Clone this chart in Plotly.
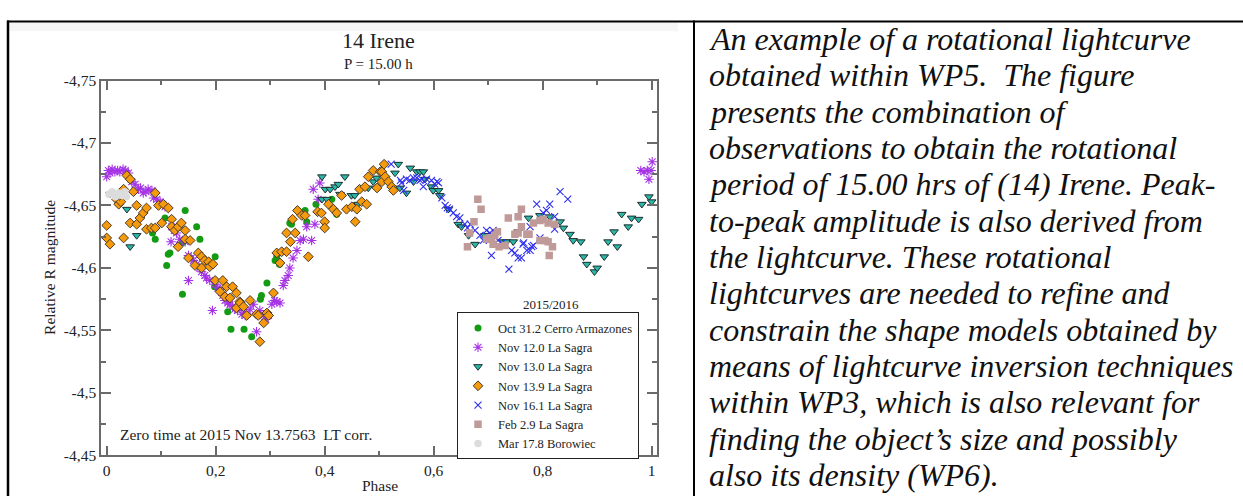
import plotly.graph_objects as go

W, H = 1243, 504

# ---------------- data (phase, relative R magnitude) ----------------
oct31_phase = [0.084, 0.089, 0.107, 0.110, 0.113, 0.116, 0.139, 0.138, 0.144, 0.165, 0.171, 0.198, 0.199,
               0.222, 0.228, 0.252, 0.266, 0.282, 0.284, 0.294, 0.309, 0.312, 0.317, 0.336, 0.339, 0.364,
               0.367, 0.384, 0.413, 0.422]
oct31_mag = [-4.628, -4.623, -4.640, -4.602, -4.611, -4.612, -4.579, -4.620, -4.646, -4.633, -4.623, -4.585, -4.609,
             -4.565, -4.551, -4.551, -4.545, -4.575, -4.578, -4.588, -4.606, -4.609, -4.603, -4.636, -4.635, -4.646,
             -4.637, -4.651, -4.655, -4.643]

nov12_phase = [0.000, 0.003, 0.006, 0.010, 0.015, 0.020, 0.024, 0.030, 0.034, 0.040, 0.012, 0.046, 0.052, 0.058,
               0.062, 0.067, 0.072, 0.076, 0.083, 0.086, 0.092, 0.098, 0.103, 0.107, 0.118, 0.119, 0.124, 0.128,
               0.134, 0.144, 0.150, 0.150, 0.155, 0.159, 0.165, 0.170, 0.174, 0.180, 0.183, 0.189, 0.194, 0.199,
               0.204, 0.208, 0.213, 0.217, 0.222, 0.226, 0.231, 0.235, 0.240, 0.248, 0.251, 0.254, 0.257, 0.263,
               0.269, 0.275, 0.281, 0.287, 0.292, 0.297, 0.303, 0.308, 0.312, 0.318, 0.324, 0.327, 0.333, 0.336,
               0.342, 0.349, 0.355, 0.361, 0.367, 0.376, 0.379, 0.382, 0.388, 0.391,
               0.980, 0.986, 0.992, 0.995, 0.999, 1.001]
nov12_mag = [-4.673, -4.678, -4.676, -4.679, -4.677, -4.678, -4.677, -4.679, -4.678, -4.676, -4.659, -4.669, -4.667,
             -4.663, -4.664, -4.660, -4.661, -4.663, -4.662, -4.656, -4.655, -4.653, -4.651, -4.649, -4.621, -4.633,
             -4.630, -4.628, -4.623, -4.621, -4.610, -4.590, -4.608, -4.606, -4.603, -4.600, -4.597, -4.594, -4.592,
             -4.590, -4.566, -4.587, -4.584, -4.583, -4.578, -4.574, -4.572, -4.571, -4.569, -4.567, -4.566, -4.563,
             -4.567, -4.562, -4.563, -4.567, -4.571, -4.549, -4.566, -4.562, -4.559, -4.562, -4.571, -4.574, -4.573,
             -4.572, -4.586, -4.590, -4.594, -4.600, -4.608, -4.614, -4.622, -4.623, -4.633, -4.622, -4.663, -4.635,
             -4.655, -4.668,
             -4.678, -4.677, -4.678, -4.671, -4.678, -4.685]

nov13_phase = [0.006, 0.024, 0.037, 0.043, 0.055, 0.395, 0.401, 0.410, 0.419, 0.425, 0.437, 0.428, 0.395, 0.404,
               0.449, 0.455, 0.461, 0.480, 0.489, 0.495, 0.504, 0.529, 0.535, 0.538, 0.550, 0.557, 0.563, 0.569,
               0.575, 0.581, 0.584, 0.596, 0.599, 0.609, 0.611, 0.627, 0.645, 0.651, 0.664, 0.676, 0.694, 0.728,
               0.734, 0.746, 0.755, 0.774, 0.795, 0.813, 0.832, 0.838, 0.850, 0.856, 0.870, 0.875, 0.881, 0.895,
               0.900, 0.913, 0.920, 0.931, 0.937, 0.945, 0.957, 0.963, 0.976, 0.982, 0.995, 1.000]
nov13_mag = [-4.659, -4.659, -4.647, -4.617, -4.626, -4.673, -4.663, -4.663, -4.665, -4.667, -4.673, -4.659, -4.655,
             -4.655, -4.658, -4.658, -4.651, -4.664, -4.669, -4.672, -4.676, -4.676, -4.683, -4.664, -4.660, -4.680,
             -4.669, -4.677, -4.677, -4.677, -4.671, -4.665, -4.662, -4.662, -4.658, -4.647, -4.635, -4.633, -4.626,
             -4.619, -4.626, -4.621, -4.621, -4.621, -4.629, -4.640, -4.642, -4.641, -4.637, -4.632, -4.627, -4.622,
             -4.621, -4.609, -4.603, -4.597, -4.600, -4.609, -4.621, -4.629, -4.617, -4.643, -4.633, -4.640, -4.639,
             -4.651, -4.657, -4.653]

nov139_phase = [0.000, 0.000, 0.006, 0.018, 0.022, 0.026, 0.024, 0.031, 0.031, 0.037, 0.043, 0.043, 0.049, 0.055,
                0.055, 0.061, 0.067, 0.073, 0.073, 0.082, 0.089, 0.089, 0.095, 0.101, 0.104, 0.113, 0.119, 0.119,
                0.125, 0.131, 0.131, 0.137, 0.144, 0.144, 0.150, 0.153, 0.162, 0.168, 0.174, 0.174, 0.180, 0.187,
                0.189, 0.195, 0.199, 0.208, 0.213, 0.217, 0.220, 0.226, 0.231, 0.238, 0.238, 0.244, 0.245, 0.251,
                0.257, 0.263, 0.275, 0.278, 0.281, 0.288, 0.294, 0.297, 0.306, 0.312, 0.318, 0.321, 0.330, 0.330,
                0.337, 0.341, 0.346, 0.350, 0.358, 0.364, 0.370, 0.387, 0.394, 0.400, 0.400, 0.407, 0.416, 0.422,
                0.431, 0.440, 0.450, 0.456, 0.459, 0.464, 0.468, 0.474, 0.477, 0.480, 0.489, 0.496, 0.502, 0.505,
                0.505, 0.509, 0.511, 0.517, 0.523, 0.526]
nov139_mag = [-4.634, -4.624, -4.619, -4.655, -4.651, -4.653, -4.658, -4.624, -4.663, -4.674, -4.671, -4.636, -4.661,
              -4.650, -4.635, -4.640, -4.644, -4.648, -4.631, -4.632, -4.632, -4.660, -4.650, -4.636, -4.651, -4.648,
              -4.639, -4.633, -4.630, -4.633, -4.617, -4.636, -4.630, -4.623, -4.608, -4.622, -4.602, -4.612, -4.609,
              -4.600, -4.606, -4.605, -4.601, -4.603, -4.590, -4.581, -4.590, -4.577, -4.585, -4.576, -4.585, -4.580,
              -4.568, -4.573, -4.572, -4.569, -4.562, -4.574, -4.563, -4.562, -4.541, -4.556, -4.564, -4.562, -4.580,
              -4.612, -4.604, -4.613, -4.613, -4.628, -4.621, -4.639, -4.628, -4.646, -4.642, -4.642, -4.609, -4.645,
              -4.644, -4.637, -4.632, -4.651, -4.647, -4.644, -4.658, -4.647, -4.649, -4.637, -4.647, -4.663, -4.653,
              -4.665, -4.651, -4.673, -4.678, -4.664, -4.677, -4.677, -4.669, -4.683, -4.673, -4.669, -4.665, -4.662]

nov16_phase = [0.522, 0.539, 0.541, 0.545, 0.550, 0.556, 0.563, 0.569, 0.575, 0.578, 0.581, 0.587, 0.596, 0.602,
               0.606, 0.609, 0.615, 0.621, 0.625, 0.629, 0.636, 0.642, 0.648, 0.657, 0.667, 0.662, 0.676, 0.685,
               0.691, 0.697, 0.703, 0.709, 0.706, 0.718, 0.725, 0.738, 0.743, 0.749, 0.755, 0.761, 0.764, 0.765,
               0.771, 0.777, 0.777, 0.780, 0.783, 0.789, 0.795, 0.801, 0.807, 0.813, 0.822, 0.822, 0.832, 0.846]
nov16_mag = [-4.683, -4.670, -4.668, -4.662, -4.671, -4.670, -4.672, -4.672, -4.670, -4.671, -4.665, -4.671, -4.670,
             -4.667, -4.669, -4.668, -4.656, -4.650, -4.648, -4.647, -4.644, -4.641, -4.640, -4.635, -4.635, -4.632,
             -4.630, -4.626, -4.622, -4.630, -4.628, -4.630, -4.610, -4.622, -4.620, -4.599, -4.614, -4.612, -4.608,
             -4.608, -4.619, -4.620, -4.614, -4.614, -4.633, -4.617, -4.618, -4.651, -4.624, -4.644, -4.646, -4.651,
             -4.641, -4.631, -4.661, -4.655]

feb2_phase = [0.662, 0.666, 0.674, 0.681, 0.687, 0.697, 0.703, 0.706, 0.709, 0.712, 0.717, 0.720, 0.731, 0.737,
              0.749, 0.755, 0.755, 0.761, 0.761, 0.771, 0.775, 0.783, 0.795, 0.801, 0.810, 0.822, 0.795, 0.804,
              0.810, 0.818, 0.812]
feb2_mag = [-4.617, -4.628, -4.637, -4.655, -4.647, -4.623, -4.624, -4.624, -4.619, -4.626, -4.629, -4.617, -4.618,
            -4.640, -4.627, -4.641, -4.628, -4.647, -4.633, -4.627, -4.627, -4.636, -4.638, -4.639, -4.636, -4.635,
            -4.622, -4.622, -4.621, -4.617, -4.610]

mar17_phase = [0.004, 0.010, 0.016, 0.022, 0.028, 0.033, 0.036]
mar17_mag = [-4.659, -4.661, -4.657, -4.660, -4.658, -4.661, -4.657]

x_tickvals = [0, 0.2, 0.4, 0.6, 0.8, 1.0]
x_ticktext = ["0", "0,2", "0,4", "0,6", "0,8", "1"]
x_minorvals = [0.1, 0.3, 0.5, 0.7, 0.9]
y_tickvals = [-4.75, -4.70, -4.65, -4.60, -4.55, -4.50, -4.45]
y_ticktext = ["-4,75", "-4,7", "-4,65", "-4,6", "-4,55", "-4,5", "-4,45"]
y_minorvals = [-4.725, -4.675, -4.625, -4.575, -4.525, -4.475]

caption_lines = [
    "An example of a rotational lightcurve",
    "obtained within WP5.\u00a0 The figure",
    "presents the combination of",
    "observations to obtain the rotational",
    "period of 15.00 hrs of (14) Irene. Peak-",
    "to-peak amplitude is also derived from",
    "the lightcurve. These rotational",
    "lightcurves are needed to refine and",
    "constrain the shape models obtained by",
    "means of lightcurve inversion techniques",
    "within WP3, which is also relevant for",
    "finding the object\u2019s size and possibly",
    "also its density (WP6).",
]

# ---------------- figure ----------------
SERIF = "Liberation Serif, Times New Roman, serif"
AX = "#6a6a6a"
TXT = "#222222"


def px(x):
    return x / W


def py(y):
    return 1 - y / H


fig = go.Figure()

fig.add_trace(go.Scatter(x=oct31_phase, y=oct31_mag, mode="markers", name="Oct 31.2 Cerro Armazones",
                         marker=dict(symbol="circle", size=7, color="#139c13", line=dict(width=0))))
fig.add_trace(go.Scatter(x=nov12_phase, y=nov12_mag, mode="markers", name="Nov 12.0 La Sagra",
                         marker=dict(symbol="asterisk-open", size=8, color="#a533e6",
                                     line=dict(width=1.1, color="#a533e6"))))
fig.add_trace(go.Scatter(x=nov13_phase, y=nov13_mag, mode="markers", name="Nov 13.0 La Sagra",
                         marker=dict(symbol="triangle-down", size=7.5, color="#2bb8a8",
                                     line=dict(width=1, color="#1e2e2e"))))
fig.add_trace(go.Scatter(x=nov139_phase, y=nov139_mag, mode="markers", name="Nov 13.9 La Sagra",
                         marker=dict(symbol="diamond", size=7.5, color="#f59a0c",
                                     line=dict(width=1, color="#4a3a2a"))))
fig.add_trace(go.Scatter(x=nov16_phase, y=nov16_mag, mode="markers", name="Nov 16.1 La Sagra",
                         marker=dict(symbol="x-thin-open", size=7, color="#2f2ff0",
                                     line=dict(width=1.1, color="#2f2ff0"))))
fig.add_trace(go.Scatter(x=feb2_phase, y=feb2_mag, mode="markers", name="Feb 2.9 La Sagra",
                         marker=dict(symbol="square", size=7.5, color="#c09a98", line=dict(width=0))))
fig.add_trace(go.Scatter(x=mar17_phase, y=mar17_mag, mode="markers", name="Mar 17.8 Borowiec",
                         marker=dict(symbol="circle", size=7.5, color="#dcdcdc", line=dict(width=0))))

axis_common = dict(
    showline=True, linecolor=AX, linewidth=1.5, mirror="ticks",
    ticks="inside", ticklen=10, tickwidth=1.5, tickcolor=AX,
    showgrid=False, zeroline=False,
    tickfont=dict(family=SERIF, size=15.5, color=TXT),
    tickmode="array",
)

fig.update_xaxes(domain=[px(101), px(657)], range=[-0.0105, 1.0098],
                 tickvals=x_tickvals, ticktext=x_ticktext,
                 minor=dict(tickvals=x_minorvals, ticks="inside", ticklen=5, tickwidth=1.5, tickcolor=AX),
                 **axis_common)
fig.update_yaxes(domain=[py(462), py(74)], range=[-4.45, -4.75],
                 tickvals=y_tickvals, ticktext=y_ticktext,
                 minor=dict(tickvals=y_minorvals, ticks="inside", ticklen=5, tickwidth=1.5, tickcolor=AX),
                 **axis_common)

annotations = [
    dict(text="14 Irene", x=px(379), y=py(33), font=dict(size=22, family=SERIF, color=TXT)),
    dict(text="P = 15.00 h", x=px(379), y=py(57), font=dict(size=15, family=SERIF, color=TXT)),
    dict(text="Phase", x=px(380), y=py(493), font=dict(size=15.5, family=SERIF, color=TXT)),
    dict(text="Relative R magnitude", x=px(50), y=py(268), textangle=-90,
         font=dict(size=15.5, family=SERIF, color=TXT)),
    dict(text="Zero time at 2015 Nov 13.7563\u00a0 LT corr.", x=px(118), y=py(440), xanchor="left",
         font=dict(size=15.5, family=SERIF, color=TXT)),
    dict(text="2015/2016", x=px(551), y=py(306), font=dict(size=13, family=SERIF, color=TXT)),
]
for i, line in enumerate(caption_lines):
    annotations.append(dict(text=line, x=px(707), y=py(31 + 37.6 * i), xanchor="left",
                            font=dict(size=32, family=SERIF, color="#111111"), ))
for a in annotations:
    a.setdefault("xanchor", "center")
    a.update(xref="paper", yref="paper", yanchor="middle", showarrow=False)
for a in annotations[6:]:
    a["text"] = "<i>" + a["text"] + "</i>"

shapes = [
    dict(type="rect", x0=px(9), x1=px(678), y0=py(14), y1=py(23), fillcolor="#f6f6f6", line=dict(width=0), layer="below"),
    dict(type="line", x0=px(7), x1=1, y0=py(13), y1=py(13), line=dict(color="black", width=2)),
    dict(type="line", x0=px(8), x1=px(8), y0=py(12), y1=0, line=dict(color="black", width=2.5)),
    dict(type="line", x0=px(694), x1=px(694), y0=py(12), y1=0, line=dict(color="black", width=2)),
]
for s in shapes:
    s.update(xref="paper", yref="paper")

fig.update_layout(
    width=W, height=H, autosize=False,
    margin=dict(l=0, r=0, t=0, b=0, pad=0),
    paper_bgcolor="white", plot_bgcolor="white",
    annotations=annotations, shapes=shapes,
    showlegend=True,
    legend=dict(x=px(457), y=py(314), xanchor="left", yanchor="top",
                bordercolor="#222222", borderwidth=1, bgcolor="white",
                font=dict(family=SERIF, size=12.5, color=TXT),
                tracegroupgap=0, itemsizing="trace"),
)

fig.write_html("out.html", config={"displayModeBar": False},
               post_script="document.body.style.margin='0';document.body.style.overflow='hidden';")
